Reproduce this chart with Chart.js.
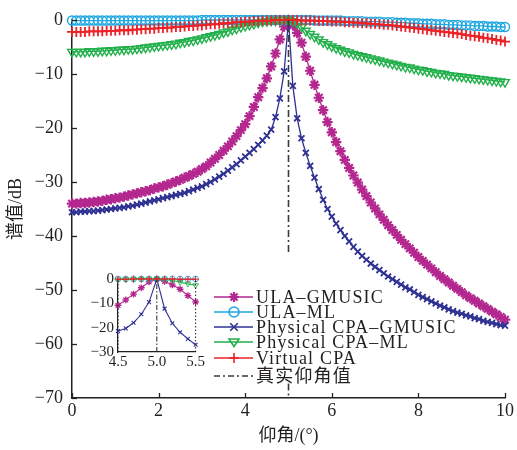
<!DOCTYPE html>
<html lang="zh">
<head>
<meta charset="UTF-8">
<title>谱值</title>
<script src="https://cdn.jsdelivr.net/npm/chart.js"></script>
<style>
  body { margin: 0; background: #fff; }
  .wrap { position: relative; width: 517px; height: 450px; }
  #mainChart { position: absolute; left: 0; top: 0; }
  #insetChart { position: absolute; left: 80px; top: 266px; }
</style>
</head>
<body>
<div class="wrap">
  <canvas id="mainChart" width="517" height="450"></canvas>
  <canvas id="insetChart" width="126" height="106"></canvas>
</div>
<script>
// 仰角 (°)
const angles = [
  0.0,0.1,0.2,0.3,0.4,0.5,0.6,0.7,0.8,0.9,
  1.0,1.1,1.2,1.3,1.4,1.5,1.6,1.7,1.8,1.9,
  2.0,2.1,2.2,2.3,2.4,2.5,2.6,2.7,2.8,2.9,
  3.0,3.1,3.2,3.3,3.4,3.5,3.6,3.7,3.8,3.9,
  4.0,4.1,4.2,4.3,4.4,4.5,4.6,4.7,4.8,4.9,
  5.0,
  5.1,5.2,5.3,5.4,5.5,5.6,5.7,5.8,5.9,6.0,
  6.1,6.2,6.3,6.4,6.5,6.6,6.7,6.8,6.9,7.0,
  7.1,7.2,7.3,7.4,7.5,7.6,7.7,7.8,7.9,8.0,
  8.1,8.2,8.3,8.4,8.5,8.6,8.7,8.8,8.9,9.0,
  9.1,9.2,9.3,9.4,9.5,9.6,9.7,9.8,9.9,10.0
];

// 谱值 (dB)
const ulaGmusic = [
  -34.0,-34.0,-33.9,-33.9,-33.8,-33.7,-33.6,-33.5,-33.3,-33.2,
  -33.0,-32.9,-32.7,-32.5,-32.3,-32.1,-31.9,-31.7,-31.5,-31.2,
  -31.0,-30.8,-30.5,-30.2,-29.9,-29.6,-29.2,-28.9,-28.5,-28.1,
  -27.6,-27.1,-26.4,-25.7,-25.0,-24.2,-23.4,-22.5,-21.5,-20.4,
  -19.3,-17.8,-16.1,-14.3,-12.6,-10.8,-8.6,-6.2,-3.6,-1.2,
  0,
  -1.0,-2.4,-4.2,-6.8,-9.4,-12.0,-14.4,-16.7,-18.9,-20.8,
  -22.6,-24.3,-25.9,-27.4,-28.8,-30.1,-31.4,-32.6,-33.8,-34.9,
  -36.0,-37.0,-38.0,-38.9,-39.8,-40.7,-41.5,-42.3,-43.1,-43.9,
  -44.6,-45.3,-46.0,-46.7,-47.4,-48.0,-48.6,-49.2,-49.8,-50.4,
  -51.0,-51.5,-52.0,-52.5,-53.0,-53.5,-54.0,-54.5,-55.0,-55.5
];
const ulaMl = [
  -0.1,-0.1,-0.1,-0.1,-0.1,-0.1,-0.1,-0.1,-0.1,-0.1,
  -0.1,-0.1,-0.1,-0.1,-0.1,-0.1,-0.1,-0.1,-0.1,-0.1,
  -0.1,-0.1,-0.1,-0.1,-0.1,-0.1,-0.1,-0.1,-0.1,-0.1,
  0.0,0.0,0.0,0.0,0.0,0.0,0.0,0.0,0.0,0.0,
  0.0,0.0,0.0,0.0,0.0,0.0,0.0,0.0,0.0,0.0,
  0,
  0.0,0.0,0.0,0.0,0.0,-0.1,-0.1,-0.1,-0.1,-0.1,
  -0.1,-0.1,-0.2,-0.2,-0.2,-0.2,-0.2,-0.3,-0.3,-0.3,
  -0.3,-0.4,-0.4,-0.4,-0.5,-0.5,-0.5,-0.6,-0.6,-0.6,
  -0.7,-0.7,-0.7,-0.8,-0.8,-0.8,-0.9,-0.9,-0.9,-1.0,
  -1.0,-1.0,-1.1,-1.1,-1.1,-1.2,-1.2,-1.2,-1.3,-1.3
];
const cpaGmusic = [
  -35.6,-35.6,-35.5,-35.5,-35.4,-35.4,-35.3,-35.2,-35.1,-35.0,
  -34.9,-34.8,-34.7,-34.5,-34.4,-34.2,-34.0,-33.8,-33.6,-33.4,
  -33.2,-33.0,-32.8,-32.6,-32.4,-32.2,-32.0,-31.7,-31.4,-31.1,
  -30.8,-30.4,-30.0,-29.5,-29.0,-28.5,-27.9,-27.3,-26.7,-26.0,
  -25.3,-24.6,-23.9,-23.1,-22.3,-21.4,-20.3,-18.0,-14.5,-9.5,
  0,
  -12.2,-18.2,-21.9,-24.6,-27.0,-29.2,-31.3,-33.3,-35.0,-36.4,
  -37.7,-38.9,-40.0,-41.0,-42.0,-42.9,-43.7,-44.4,-45.1,-45.7,
  -46.3,-46.9,-47.5,-48.0,-48.5,-49.0,-49.5,-49.9,-50.4,-50.9,
  -51.3,-51.7,-52.1,-52.5,-52.9,-53.2,-53.6,-53.9,-54.2,-54.4,
  -54.7,-54.9,-55.2,-55.4,-55.7,-55.9,-56.1,-56.3,-56.5,-56.6
];
const cpaMl = [
  -5.9,-5.9,-5.9,-5.9,-5.8,-5.8,-5.8,-5.7,-5.7,-5.6,
  -5.6,-5.5,-5.5,-5.4,-5.4,-5.3,-5.2,-5.1,-5.0,-4.9,
  -4.8,-4.7,-4.6,-4.5,-4.4,-4.2,-4.1,-3.9,-3.8,-3.6,
  -3.4,-3.2,-3.0,-2.8,-2.6,-2.3,-2.1,-1.8,-1.6,-1.3,
  -1.1,-0.9,-0.7,-0.5,-0.3,-0.2,-0.1,-0.1,0.0,0.0,
  0,
  -0.2,-0.6,-1.3,-2.0,-2.6,-3.1,-3.6,-4.1,-4.5,-4.9,
  -5.2,-5.5,-5.8,-6.0,-6.3,-6.5,-6.7,-6.9,-7.1,-7.3,
  -7.5,-7.7,-7.9,-8.1,-8.3,-8.5,-8.7,-8.8,-9.0,-9.2,
  -9.3,-9.5,-9.6,-9.8,-9.9,-10.0,-10.2,-10.3,-10.4,-10.5,
  -10.6,-10.7,-10.8,-10.9,-11.0,-11.1,-11.2,-11.3,-11.4,-11.5
];
const virtualCpa = [
  -2.2,-2.2,-2.2,-2.2,-2.1,-2.1,-2.1,-2.1,-2.0,-2.0,
  -2.0,-1.9,-1.9,-1.9,-1.8,-1.8,-1.7,-1.7,-1.6,-1.6,
  -1.5,-1.5,-1.4,-1.4,-1.3,-1.3,-1.2,-1.1,-1.1,-1.0,
  -1.0,-0.9,-0.8,-0.8,-0.7,-0.6,-0.6,-0.5,-0.4,-0.4,
  -0.3,-0.3,-0.2,-0.2,-0.1,-0.1,-0.1,0.0,0.0,0.0,
  0,
  0.0,0.0,-0.1,-0.1,-0.1,-0.1,-0.2,-0.2,-0.2,-0.3,
  -0.3,-0.3,-0.4,-0.4,-0.5,-0.5,-0.6,-0.6,-0.7,-0.7,
  -0.8,-0.9,-0.9,-1.0,-1.1,-1.2,-1.3,-1.4,-1.5,-1.6,
  -1.7,-1.8,-1.9,-2.0,-2.1,-2.2,-2.3,-2.4,-2.5,-2.6,
  -2.8,-2.9,-3.0,-3.1,-3.3,-3.4,-3.5,-3.7,-3.8,-4.0
];

// 真实仰角值 (dash-dot line, hidden behind the legend between its two pieces)
const trueAngle = 5;
const trueLineY = [0, -43.5, null, -67.3, -70];

// inset view
const insetRange = [4.5, 5.5];
const insetYRange = [-30, 0];

const legendLabels = ['ULA–GMUSIC', 'ULA–ML', 'Physical CPA–GMUSIC', 'Physical CPA–ML', 'Virtual CPA', '真实仰角值'];

const colors = {
  pink: '#b3278f',
  cyan: '#1ea7e1',
  navy: '#2e3192',
  green: '#22b04b',
  red: '#ec2227',
  dark: '#3a3a3a'
};

const serif = '"Liberation Serif", "Noto Sans CJK SC", serif';
const pts = ys => angles.map((a, i) => ({ x: a, y: ys[i] }));

function seriesSets(r, bw) {
  return [
    { label: legendLabels[0], src: ulaGmusic, borderColor: colors.pink, pointStyle: 'star',
      pointRadius: 5.2 * r, pointBorderWidth: 2.2 * bw, pointBackgroundColor: colors.pink, order: 6 },
    { label: legendLabels[1], src: ulaMl, borderColor: colors.cyan, pointStyle: 'circle',
      pointRadius: 4.5 * r, pointBorderWidth: 1.4 * bw, pointBackgroundColor: 'rgba(0,0,0,0)', order: 5 },
    { label: legendLabels[2], src: cpaGmusic, borderColor: colors.navy, pointStyle: 'crossRot',
      pointRadius: 4.2 * r, pointBorderWidth: 1.8 * bw, order: 4 },
    { label: legendLabels[3], src: cpaMl, borderColor: colors.green, pointStyle: 'triangle',
      rotation: 180, pointRadius: 5 * r, pointBorderWidth: 1.4 * bw, pointBackgroundColor: 'rgba(0,0,0,0)', order: 3 },
    { label: legendLabels[4], src: virtualCpa, borderColor: colors.red, pointStyle: 'cross',
      pointRadius: 5 * r, pointBorderWidth: 1.8 * bw, order: 2 }
  ];
}

// inward tick marks on left and bottom axes
const inwardTicks = {
  id: 'inwardTicks',
  afterDraw(chart) {
    const { ctx, chartArea, scales } = chart;
    const len = 5;
    ctx.save();
    ctx.strokeStyle = '#222';
    ctx.lineWidth = 1.3;
    scales.y.ticks.forEach(t => {
      const y = Math.round(scales.y.getPixelForValue(t.value)) + 0.5;
      ctx.beginPath(); ctx.moveTo(chartArea.left, y); ctx.lineTo(chartArea.left + len, y); ctx.stroke();
    });
    scales.x.ticks.forEach(t => {
      const x = Math.round(scales.x.getPixelForValue(t.value)) + 0.5;
      ctx.beginPath(); ctx.moveTo(x, chartArea.bottom); ctx.lineTo(x, chartArea.bottom - len); ctx.stroke();
    });
    ctx.restore();
  }
};

function drawMarker(ctx, kind, x, y, r, color) {
  ctx.strokeStyle = color;
  ctx.beginPath();
  if (kind === 'star') {
    for (let k = 0; k < 4; k++) {
      const a = k * Math.PI / 4;
      ctx.moveTo(x - r * Math.cos(a), y - r * Math.sin(a));
      ctx.lineTo(x + r * Math.cos(a), y + r * Math.sin(a));
    }
  } else if (kind === 'circle') {
    ctx.arc(x, y, r, 0, Math.PI * 2);
  } else if (kind === 'crossRot') {
    ctx.moveTo(x - r * 0.75, y - r * 0.75); ctx.lineTo(x + r * 0.75, y + r * 0.75);
    ctx.moveTo(x + r * 0.75, y - r * 0.75); ctx.lineTo(x - r * 0.75, y + r * 0.75);
  } else if (kind === 'triangle') {
    ctx.moveTo(x - r, y - r * 0.6); ctx.lineTo(x + r, y - r * 0.6); ctx.lineTo(x, y + r * 0.9); ctx.closePath();
  } else if (kind === 'cross') {
    ctx.moveTo(x - r, y); ctx.lineTo(x + r, y);
    ctx.moveTo(x, y - r); ctx.lineTo(x, y + r);
  }
  ctx.stroke();
}

const legendBox = {
  id: 'legendBox',
  afterDraw(chart) {
    const ctx = chart.ctx;
    const rows = [297, 312, 327, 342, 358, 376];
    const kinds = ['star', 'circle', 'crossRot', 'triangle', 'cross', null];
    const cols = [colors.pink, colors.cyan, colors.navy, colors.green, colors.red, colors.dark];
    ctx.save();
    rows.forEach((y, i) => {
      ctx.lineWidth = 1.5;
      ctx.strokeStyle = cols[i];
      ctx.setLineDash(i === 5 ? [6, 3, 2, 3] : []);
      ctx.beginPath(); ctx.moveTo(214, y); ctx.lineTo(253, y); ctx.stroke();
      ctx.setLineDash([]);
      if (kinds[i]) {
        ctx.lineWidth = i === 0 ? 2.2 : 1.6;
        drawMarker(ctx, kinds[i], 234, y, 5, cols[i]);
      }
      ctx.fillStyle = '#231f20';
      ctx.font = '18px ' + serif;
      ctx.letterSpacing = '1.2px';
      ctx.textBaseline = 'middle';
      ctx.textAlign = 'left';
      ctx.fillText(legendLabels[i], 256, y + 1);
    });
    ctx.restore();
  }
};

const minusFmt = v => String(v).replace('-', '−');

const mainSets = seriesSets(1, 1).map(d => Object.assign({}, d, {
  data: pts(d.src), borderWidth: 1.3, pointBorderColor: d.borderColor, clip: false
}));
mainSets.push({
  label: legendLabels[5],
  data: trueLineY.map(y => ({ x: trueAngle, y: y })),
  borderColor: colors.dark, borderWidth: 1.6, borderDash: [7, 3, 2, 3],
  pointRadius: 0, spanGaps: false, order: 1, clip: false
});

new Chart(document.getElementById('mainChart'), {
  type: 'line',
  data: { datasets: mainSets },
  options: {
    responsive: false,
    devicePixelRatio: 1,
    animation: false,
    layout: { padding: { top: 20, right: 12, left: 0, bottom: 0 } },
    plugins: { legend: { display: false }, tooltip: { enabled: false } },
    scales: {
      x: {
        type: 'linear', min: 0, max: 10,
        ticks: { stepSize: 2, padding: 2, color: '#231f20', font: { family: serif, size: 18 }, maxRotation: 0 },
        grid: { drawOnChartArea: false, drawTicks: false },
        border: { display: true, color: '#231f20', width: 1.5 },
        title: { display: true, text: '仰角/(°)', color: '#231f20', font: { family: serif, size: 18 }, padding: { top: 0, bottom: 3 } },
        afterFit(s) { s.height = 52; }
      },
      y: {
        type: 'linear', min: -70, max: 0,
        ticks: { stepSize: 10, padding: 9, color: '#231f20', font: { family: serif, size: 18 }, callback: minusFmt },
        grid: { drawOnChartArea: false, drawTicks: false },
        border: { display: true, color: '#231f20', width: 1.5 },
        title: { display: true, text: '谱值/dB', color: '#231f20', font: { family: serif, size: 18 }, padding: { top: 5, bottom: 0 } },
        afterFit(s) { s.width = 72; }
      }
    }
  },
  plugins: [inwardTicks, legendBox]
});

// inset: zoom on 4.5 .. 5.5
const i0 = angles.indexOf(insetRange[0]);
const i1 = angles.indexOf(insetRange[1]);
const insetSets = seriesSets(0.65, 0.6).map(d => Object.assign({}, d, {
  data: pts(d.src).slice(i0, i1 + 1), borderWidth: 1.1, pointBorderColor: d.borderColor, clip: false
}));
insetRange.forEach(xv => insetSets.push({
  data: insetYRange.map(y => ({ x: xv, y: y })),
  borderColor: '#222', borderWidth: 1, borderDash: [1.5, 2], pointRadius: 0, order: 0, clip: false
}));
insetSets.push({
  data: insetYRange.map(y => ({ x: trueAngle, y: y })),
  borderColor: '#222', borderWidth: 1, borderDash: [5, 2, 1.5, 2], pointRadius: 0, order: 0, clip: false
});

new Chart(document.getElementById('insetChart'), {
  type: 'line',
  data: { datasets: insetSets },
  options: {
    responsive: false,
    devicePixelRatio: 1,
    animation: false,
    layout: { padding: { top: 12, right: 9, left: 0, bottom: 0 } },
    plugins: { legend: { display: false }, tooltip: { enabled: false } },
    scales: {
      x: {
        type: 'linear', min: insetRange[0], max: insetRange[1],
        ticks: { stepSize: 0.5, padding: 1, color: '#231f20', font: { family: serif, size: 15 }, maxRotation: 0,
                 callback: v => v.toFixed(1) },
        grid: { drawOnChartArea: false, drawTicks: false },
        border: { display: true, color: '#231f20', width: 1.2 },
        afterFit(s) { s.height = 20; }
      },
      y: {
        type: 'linear', min: insetYRange[0], max: insetYRange[1],
        ticks: { stepSize: 10, padding: 4, color: '#231f20', font: { family: serif, size: 15 }, callback: minusFmt },
        grid: { drawOnChartArea: false, drawTicks: false },
        border: { display: true, color: '#231f20', width: 1.2 },
        afterFit(s) { s.width = 38; }
      }
    }
  }
});
</script>
</body>
</html>
